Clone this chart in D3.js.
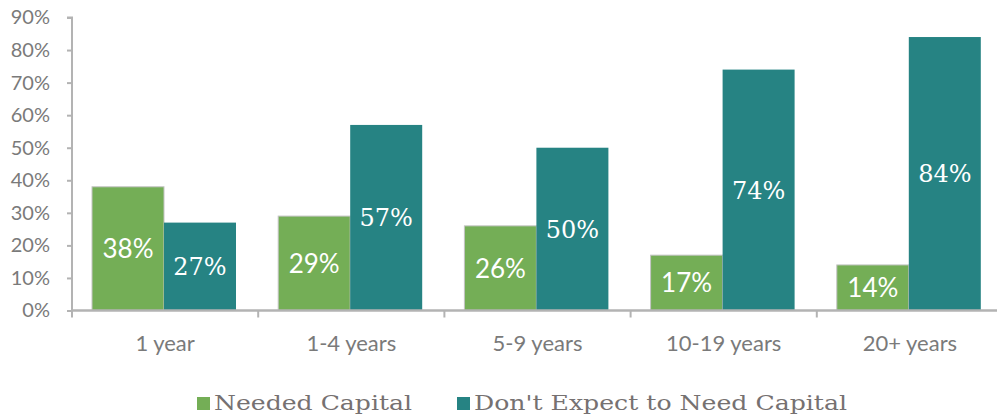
<!DOCTYPE html>
<html><head><meta charset="utf-8">
<script src="https://cdn.jsdelivr.net/npm/d3@7"></script>
<style>body{margin:0;background:#fff}svg{display:block}</style>
</head><body>
<svg id="c" width="997" height="415"></svg>
<script>
const categories = ["1 year","1-4 years","5-9 years","10-19 years","20+ years"];
const neededCapital = [38,29,26,17,14];
const dontExpect = [27,57,50,74,84];
const yTicks = [0,10,20,30,40,50,60,70,80,90];
const seriesNames = ["Needed Capital","Don't Expect to Need Capital"];

const svg = d3.select("#c");
const x0 = 72, x1 = 1003, y0 = 310.5, yTop = 17.5;
const x = d3.scaleBand().domain(categories).range([x0,x1]);
const y = d3.scaleLinear().domain([0,90]).range([y0,yTop]);
const gray = "#b3b3b3", textGray = "#7a7a7a";
const green = "#74ae56", teal = "#268383";
const barW = 72, off = 20;

// y axis
const ya = svg.append("g").attr("transform",`translate(${x0},0)`)
  .call(d3.axisLeft(y).tickValues(yTicks).tickSize(5).tickFormat(d=>d+"%"));
ya.select(".domain").attr("stroke",gray).attr("stroke-width",2).attr("d",`M-5,${yTop}H0V${y0}`);
ya.selectAll(".tick line").attr("stroke",gray).attr("stroke-width",2);
ya.selectAll(".tick text").attr("x",-22).attr("fill",textGray)
  .style("font-family","Lato, 'Open Sans', sans-serif").style("font-size","20px");

// bars
const g = svg.append("g");
categories.forEach((c,i)=>{
  const bx = x(c);
  g.append("rect").attr("x",bx+off).attr("y",y(neededCapital[i])).attr("width",barW)
    .attr("height",y0-y(neededCapital[i])).attr("fill",green).attr("stroke","#c4c4c4").attr("stroke-width",1);
  g.append("rect").attr("x",bx+off+barW).attr("y",y(dontExpect[i])).attr("width",barW)
    .attr("height",y0-y(dontExpect[i])).attr("fill",teal);
  g.append("text").attr("x",bx+off+barW/2).attr("y",(y(neededCapital[i])+y0)/2).attr("dy","0.36em")
    .attr("text-anchor","middle").attr("fill","#fff")
    .style("font-family","Lato, 'Open Sans', sans-serif").style("font-size","26px")
    .text(neededCapital[i]+"%");
  g.append("text").attr("x",bx+off+barW*1.5).attr("y",(y(dontExpect[i])+y0)/2).attr("dy","0.36em")
    .attr("text-anchor","middle").attr("fill","#fff")
    .style("font-family","'DejaVu Serif', serif").style("font-size","24px")
    .text(dontExpect[i]+"%");
});

// x axis
const xa = svg.append("g").attr("transform",`translate(0,${y0})`)
  .call(d3.axisBottom(x).tickSize(0));
xa.select(".domain").attr("stroke",gray).attr("stroke-width",2.5).attr("d",`M${x0},0H${x1}`);
xa.selectAll(".tick text").attr("y",25).attr("fill",textGray)
  .style("font-family","Lato, 'Open Sans', sans-serif").style("font-size","22px");
const bounds = categories.map(c=>x(c)).concat([x1]);
xa.selectAll(".sep").data(bounds).enter().append("line").attr("class","sep")
  .attr("x1",d=>d).attr("x2",d=>d).attr("y1",0).attr("y2",7).attr("stroke",gray).attr("stroke-width",2);

// legend
const leg = svg.append("g").style("font-family","'DejaVu Serif', serif").style("font-size","21px");
const legItems = [{n:seriesNames[0],c:green,x:197},{n:seriesNames[1],c:teal,x:457}];
legItems.forEach(d=>{
  leg.append("rect").attr("x",d.x).attr("y",397).attr("width",13).attr("height",13).attr("fill",d.c);
  leg.append("text").attr("x",d.x+17).attr("y",410).attr("fill","#767171")
    .attr("textLength", d.n===seriesNames[0]?198:373).attr("lengthAdjust","spacingAndGlyphs").text(d.n);
});
</script>
</body></html>
